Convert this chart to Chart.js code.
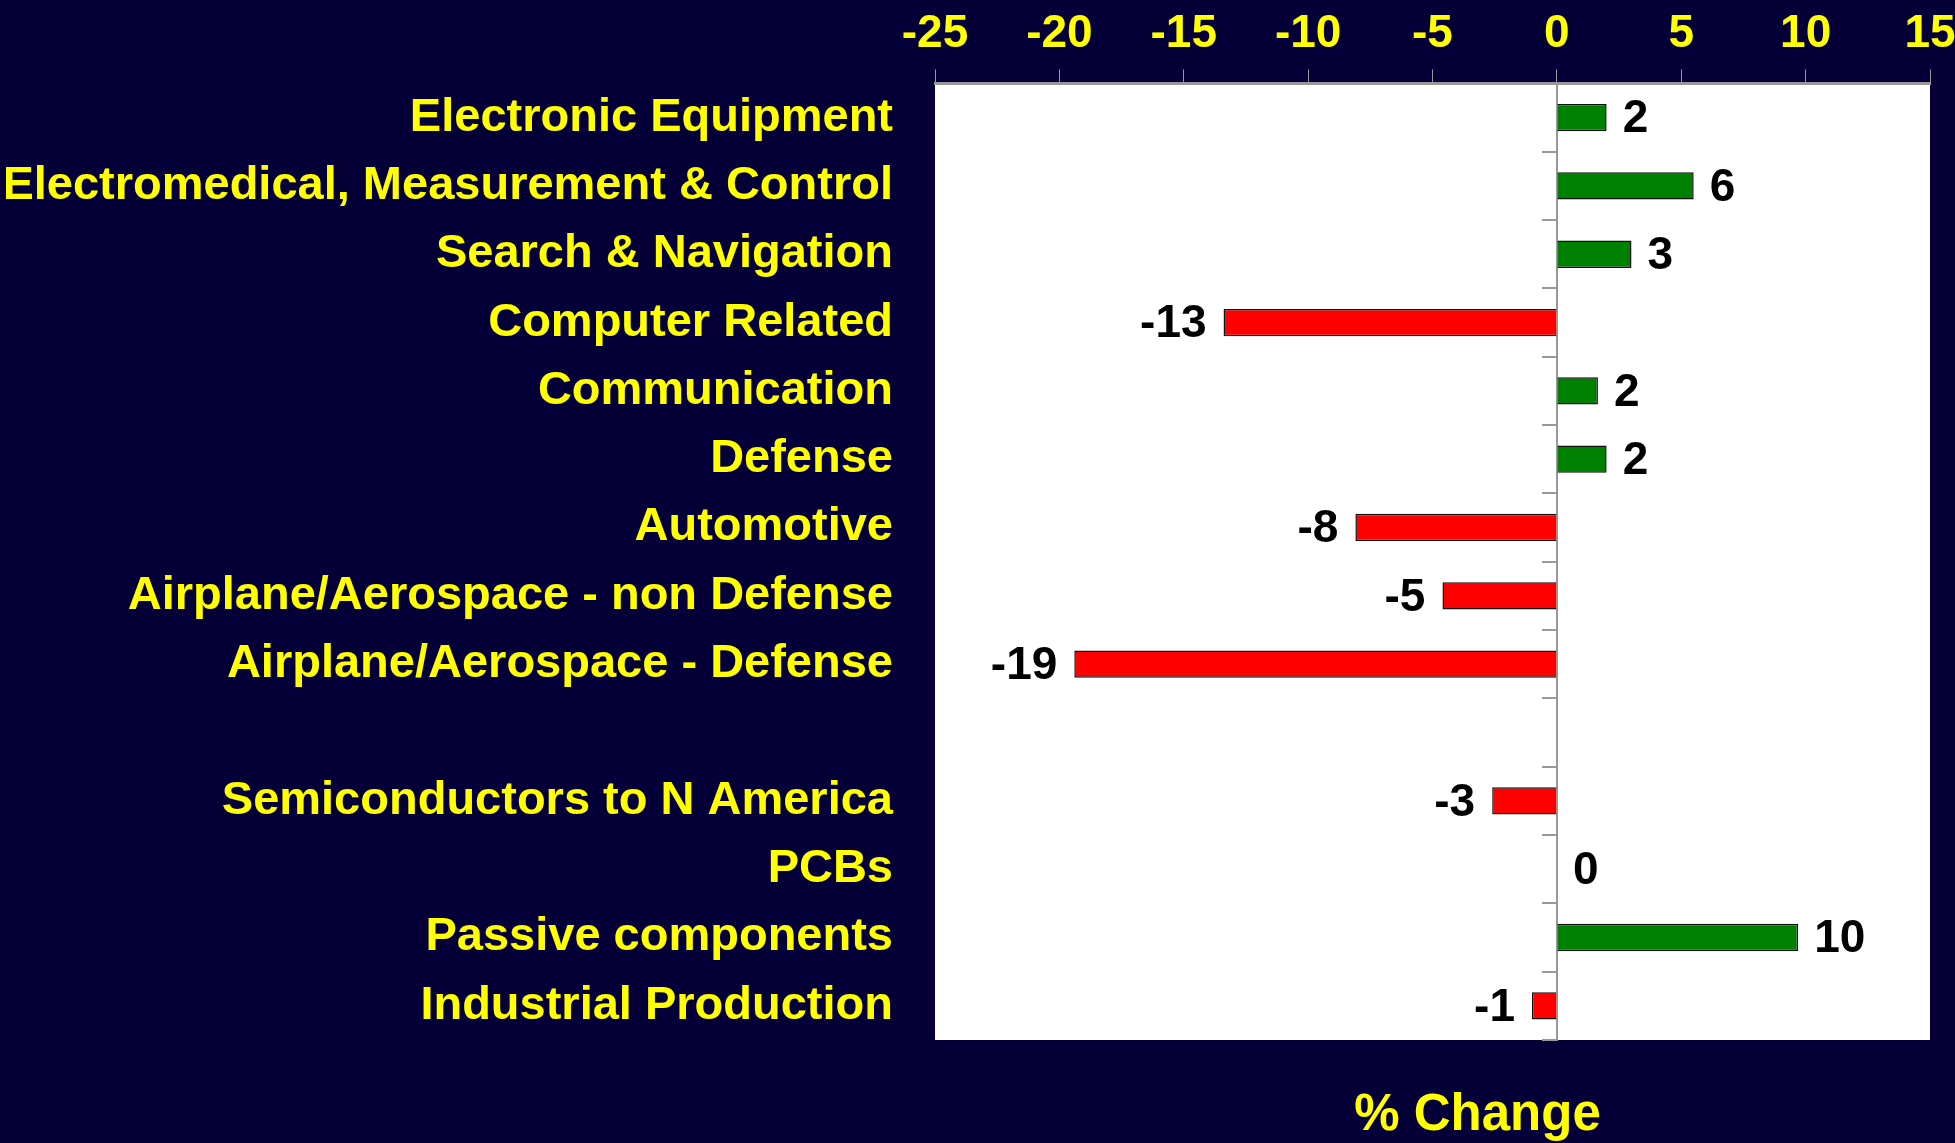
<!DOCTYPE html>
<html>
<head>
<meta charset="utf-8">
<script src="https://cdn.jsdelivr.net/npm/chart.js@4"></script>
<style>
    html, body { margin: 0; padding: 0; background: #050038; }
    #wrap { width: 1955px; height: 1143px; }
</style>
</head>
<body>
<div id="wrap"><canvas id="myBarChart"></canvas></div>
<script>
const categories = [
    'Electronic Equipment',
    'Electromedical, Measurement & Control',
    'Search & Navigation',
    'Computer Related',
    'Communication',
    'Defense',
    'Automotive',
    'Airplane/Aerospace - non Defense',
    'Airplane/Aerospace - Defense',
    '',
    'Semiconductors to N America',
    'PCBs',
    'Passive components',
    'Industrial Production'
];
const changes = [2.0, 5.5, 3.0, -13.4, 1.65, 2.0, -8.1, -4.6, -19.4, null, -2.6, 0, 9.7, -1.0];
const xMin = -25;
const xMax = 15;
const xStep = 5;
const axisTitle = '% Change';

const yellow = '#ffff00';
const grey = '#999999';

Chart.defaults.font.family = '"Liberation Sans", Arial, sans-serif';
Chart.defaults.font.weight = 'bold';
Chart.defaults.font.size = 46;

// white plot area on the navy page
const plotBackground = {
    id: 'plotBackground',
    beforeDraw(chart) {
        const {ctx, chartArea: a} = chart;
        ctx.save();
        ctx.fillStyle = '#ffffff';
        ctx.fillRect(a.left, a.top, a.right - a.left, a.bottom - a.top);
        ctx.restore();
    }
};

// rounded numbers next to the bar ends
const valueLabels = {
    id: 'valueLabels',
    afterDatasetsDraw(chart) {
        const {ctx} = chart;
        const meta = chart.getDatasetMeta(0);
        ctx.save();
        ctx.font = 'bold 46px "Liberation Sans", Arial, sans-serif';
        ctx.fillStyle = '#000000';
        ctx.textBaseline = 'middle';
        meta.data.forEach((bar, i) => {
            const v = changes[i];
            if (v === null) return;
            if (v >= 0) {
                ctx.textAlign = 'left';
                ctx.fillText(String(Math.round(v)), bar.x + 16, bar.y + 2);
            } else {
                ctx.textAlign = 'right';
                ctx.fillText(String(Math.round(v)), bar.x - 17, bar.y + 2);
            }
        });
        ctx.restore();
    }
};

// axis title below the plot
const bottomTitle = {
    id: 'bottomTitle',
    afterDraw(chart) {
        const {ctx, chartArea: a} = chart;
        ctx.save();
        ctx.font = 'bold 51px "Liberation Sans", Arial, sans-serif';
        ctx.fillStyle = yellow;
        ctx.textAlign = 'center';
        ctx.textBaseline = 'middle';
        ctx.fillText(axisTitle, (a.left + a.right) / 2 + 45, a.bottom + 76);
        ctx.restore();
    }
};

const data = {
    labels: categories,
    datasets: [{
        label: axisTitle,
        data: changes,
        backgroundColor: ctx => ctx.raw < 0 ? '#ff0000' : '#008000',
        borderColor: '#111111',
        borderWidth: ctx => ctx.raw === 0 ? 0 : 1.5,
        barPercentage: 0.4,
        categoryPercentage: 1.0
    }]
};

const config = {
    type: 'bar',
    data: data,
    options: {
        indexAxis: 'y',
        responsive: true,
        maintainAspectRatio: false,
        animation: false,
        layout: {
            padding: { left: 6, top: 0, right: 25, bottom: 103 }
        },
        plugins: {
            legend: { display: false },
            tooltip: { enabled: false }
        },
        scales: {
            x: {
                position: 'top',
                min: xMin,
                max: xMax,
                ticks: {
                    stepSize: xStep,
                    color: yellow,
                    padding: 14,
                    font: { size: 46, weight: 'bold', lineHeight: 0.9 }
                },
                grid: {
                    drawOnChartArea: false,
                    color: grey,
                    tickLength: 14
                },
                border: { display: true, color: grey, width: 3 },
                afterFit(scale) {
                    // let the last tick label run past the edge, as in the original
                    scale.paddingRight = 0;
                }
            },
            y: {
                position: 'left',
                offset: true,
                ticks: {
                    color: yellow,
                    padding: 42,
                    autoSkip: false,
                    font: { size: 47, weight: 'bold' }
                },
                grid: { display: false, drawTicks: false },
                border: { display: false },
                afterFit(scale) {
                    scale.width = 929;
                }
            },
            yZero: {
                axis: 'y',
                type: 'category',
                position: { x: 0 },
                offset: true,
                ticks: { display: false },
                grid: {
                    offset: true,
                    drawOnChartArea: false,
                    color: grey,
                    lineWidth: 2,
                    tickLength: 14
                },
                border: { display: true, color: grey, width: 2 }
            }
        }
    },
    plugins: [plotBackground, valueLabels, bottomTitle]
};

const myBarChart = new Chart(document.getElementById('myBarChart'), config);
</script>
</body>
</html>
